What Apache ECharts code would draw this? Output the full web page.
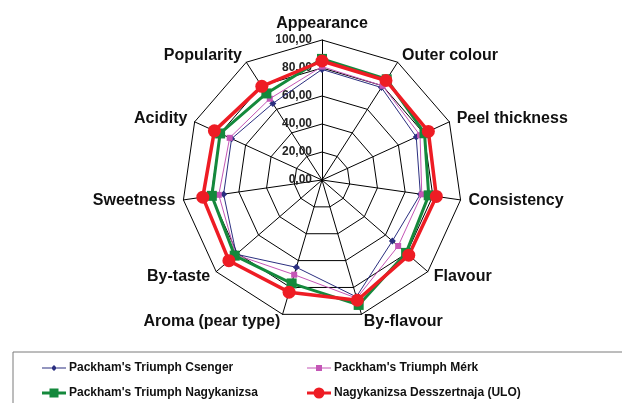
<!DOCTYPE html>
<html>
<head>
<meta charset="utf-8">
<script src="https://cdn.jsdelivr.net/npm/echarts@6/dist/echarts.min.js"></script>
<style>
  html, body { margin: 0; padding: 0; background: #fff; }
  #chart { width: 622px; height: 403px; }
</style>
</head>
<body>
<div id="chart"></div>
<script>
const indicators = ['Appearance', 'Outer colour', 'Peel thickness', 'Consistency', 'Flavour',
  'By-flavour', 'Aroma (pear type)', 'By-taste', 'Sweetness', 'Acidity', 'Popularity']
const seriesNames = ["Packham's Triumph Csenger", "Packham's Triumph Mérk",
  "Packham's Triumph Nagykanizsa", 'Nagykanizsa Desszertnaja (ULO)']
const csenger = [79, 78.5, 74, 71, 66.5, 87, 65, 81, 71, 71, 65]
const merk = [81, 80, 77, 72, 72, 88, 70.5, 81.5, 74.5, 72.5, 69]
const nagykanizsa = [86.5, 85.5, 80.5, 77, 79.5, 93, 77, 82.5, 79.5, 80, 73.5]
const ulo = [85, 84.5, 83.5, 82.5, 82, 89.5, 83.5, 88, 86, 84.5, 79.5]

const font = 'Liberation Sans, Arial, sans-serif'
const colors = ['#2b2f80', '#c456b6', '#14893c', '#ee1c24']

// echarts radar runs counter-clockwise, the reference runs clockwise
const order = [0].concat(indicators.map((_, i) => i).slice(1).reverse())
const clockwise = (arr) => order.map((i) => arr[i])

const chart = echarts.init(document.getElementById('chart'))

const icons = [
  'path://M0,2.5H9V3.5H0Z M15,2.5H24V3.5H15Z M12,0L15,3L12,6L9,3Z',
  'path://M0,2.5H9V3.5H0Z M15,2.5H24V3.5H15Z M9,0H15V6H9Z',
  'path://M0,3H8V6H0Z M16,3H24V6H16Z M7.5,0H16.5V9H7.5Z',
  'path://M0,4H8V7H0Z M16,4H24V7H16Z M6.5,5.5A5.5,5.5 0 1 1 17.5,5.5A5.5,5.5 0 1 1 6.5,5.5Z'
]
const iconHeights = [6, 6, 9, 11]
const legendPos = [[42, 362], [307, 362], [42, 387], [307, 387]]

chart.setOption({
  backgroundColor: '#fff',
  animation: false,
  color: colors,
  graphic: [{
    type: 'rect',
    shape: { x: 13, y: 352, width: 630, height: 70 },
    style: { fill: 'none', stroke: '#7a7a7a', lineWidth: 1 }
  }],
  legend: seriesNames.map((name, i) => ({
    data: [{ name, icon: icons[i] }],
    left: legendPos[i][0],
    top: legendPos[i][1],
    padding: 0,
    itemWidth: 24,
    itemHeight: iconHeights[i],
    itemGap: 3,
    textStyle: { fontFamily: font, fontSize: 12, fontWeight: 'bold', color: '#111', padding: [0, 0, 0, -2] }
  })),
  radar: {
    center: [322, 180],
    radius: 140,
    startAngle: 90,
    shape: 'polygon',
    splitNumber: 5,
    nameGap: 8,
    axisName: { color: '#111', fontFamily: font, fontSize: 16, fontWeight: 'bold' },
    splitArea: { show: false },
    splitLine: { lineStyle: { color: '#000', width: 1 } },
    axisLine: { lineStyle: { color: '#000', width: 1 } },
    axisLabel: { show: false },
    indicator: clockwise(indicators).map((name, i) => {
      const ind = { name, min: 0, max: 100 }
      if (i === 0) {
        ind.axisLabel = {
          show: true,
          color: '#222',
          fontFamily: font,
          fontSize: 12,
          fontWeight: 'bold',
          margin: 10,
          formatter: (v) => v.toFixed(2).replace('.', ',')
        }
      }
      return ind
    })
  },
  series: [
    {
      type: 'radar',
      data: [
        {
          name: seriesNames[0], value: clockwise(csenger), symbol: 'diamond', symbolSize: 7,
          itemStyle: { color: colors[0] }, lineStyle: { color: colors[0], width: 1 }
        },
        {
          name: seriesNames[1], value: clockwise(merk), symbol: 'rect', symbolSize: 6,
          itemStyle: { color: colors[1] }, lineStyle: { color: colors[1], width: 1 }
        },
        {
          name: seriesNames[2], value: clockwise(nagykanizsa), symbol: 'rect', symbolSize: 10,
          itemStyle: { color: colors[2] }, lineStyle: { color: colors[2], width: 3 }
        },
        {
          name: seriesNames[3], value: clockwise(ulo), symbol: 'circle', symbolSize: 13,
          itemStyle: { color: colors[3] }, lineStyle: { color: colors[3], width: 3.5 }
        }
      ]
    }
  ]
})
</script>
</body>
</html>
